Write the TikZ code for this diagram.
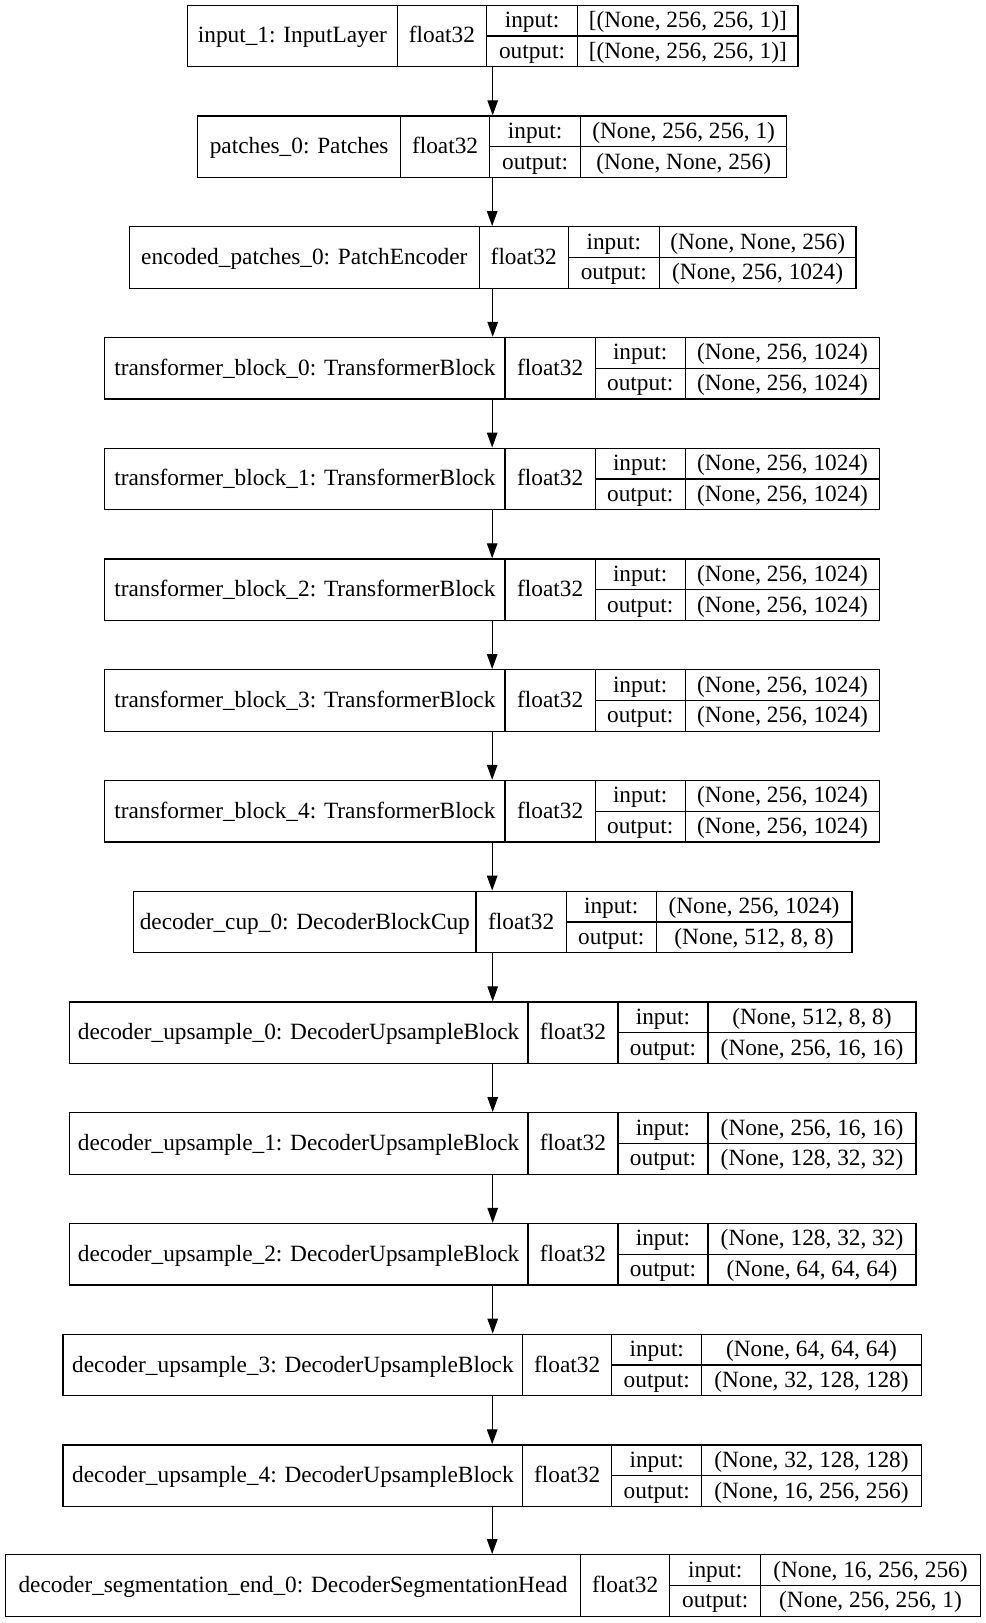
\documentclass[tikz,border=0pt]{standalone}
\usepackage{fontspec}
\setmainfont{Liberation Serif}
\usetikzlibrary{fit,arrows.meta}
\begin{document}
\begin{tikzpicture}[x=1.0347pt,y=-1.0347pt,
  box/.style={draw,line width=1.3pt,inner sep=0pt},
  div/.style={line width=1.3pt},
  txt/.style={font=\fontsize{23.3}{28}\selectfont, inner sep=0pt, text height=17pt, text depth=3pt},
  arr/.style={line width=1.3pt,-{Triangle[length=15pt,width=10.5pt]}}]
\fill[white] (0,0) rectangle (952,1568);
\useasboundingbox (0,0) rectangle (952,1568);
\foreach \nm/\yt/\xa/\xb/\xc/\xd/\xe/\lab/\vin/\vout in {
 r1/5/181/384/470/558/771/{input\_1: InputLayer}/{[(None, 256, 256, 1)]}/{[(None, 256, 256, 1)]},
 r2/112/191/387/473/561/760/{patches\_0: Patches}/{(None, 256, 256, 1)}/{(None, None, 256)},
 r3/219/125/463/549/637/827/{encoded\_patches\_0: PatchEncoder}/{(None, None, 256)}/{(None, 256, 1024)},
 r4/326/101/488/575/662/850/{transformer\_block\_0: TransformerBlock}/{(None, 256, 1024)}/{(None, 256, 1024)},
 r5/433/101/488/575/662/850/{transformer\_block\_1: TransformerBlock}/{(None, 256, 1024)}/{(None, 256, 1024)},
 r6/540/101/488/575/662/850/{transformer\_block\_2: TransformerBlock}/{(None, 256, 1024)}/{(None, 256, 1024)},
 r7/647/101/488/575/662/850/{transformer\_block\_3: TransformerBlock}/{(None, 256, 1024)}/{(None, 256, 1024)},
 r8/754/101/488/575/662/850/{transformer\_block\_4: TransformerBlock}/{(None, 256, 1024)}/{(None, 256, 1024)},
 r9/861/129/460/547/634/823/{decoder\_cup\_0: DecoderBlockCup}/{(None, 256, 1024)}/{(None, 512, 8, 8)},
 r10/968/67/510/597/684/885/{decoder\_upsample\_0: DecoderUpsampleBlock}/{(None, 512, 8, 8)}/{(None, 256, 16, 16)},
 r11/1075/67/510/597/684/885/{decoder\_upsample\_1: DecoderUpsampleBlock}/{(None, 256, 16, 16)}/{(None, 128, 32, 32)},
 r12/1182/67/510/597/684/885/{decoder\_upsample\_2: DecoderUpsampleBlock}/{(None, 128, 32, 32)}/{(None, 64, 64, 64)},
 r13/1289/61/505/591/678/890/{decoder\_upsample\_3: DecoderUpsampleBlock}/{(None, 64, 64, 64)}/{(None, 32, 128, 128)},
 r14/1396/61/505/591/678/890/{decoder\_upsample\_4: DecoderUpsampleBlock}/{(None, 32, 128, 128)}/{(None, 16, 256, 256)},
 r15/1502/5/561/647/735/947/{decoder\_segmentation\_end\_0: DecoderSegmentationHead}/{(None, 16, 256, 256)}/{(None, 256, 256, 1)}}
{
  \pgfmathsetmacro\yb{\yt+59.5}
  \pgfmathsetmacro\ym{\yt+29.75}
  \pgfmathsetmacro\yi{\yt+14.9}
  \pgfmathsetmacro\yo{\yt+44.6}
  \node[box, fit={(\xa,\yt) (\xe,\yb)}] (\nm) {};
  \draw[div] (\xb,\yt) -- (\xb,\yb) (\xc,\yt) -- (\xc,\yb) (\xd,\yt) -- (\xd,\yb) (\xc,\ym) -- (\xe,\ym);
  \node[txt] (\nm-l) at ({(\xa+\xb)/2},\ym) {\lab};
  \node[txt] (\nm-t) at ({(\xb+\xc)/2},\ym) {float32};
  \node[txt] (\nm-i) at ({(\xc+\xd)/2},\yi) {input:};
  \node[txt] (\nm-iv) at ({(\xd+\xe)/2},\yi) {\vin};
  \node[txt] (\nm-o) at ({(\xc+\xd)/2},\yo) {output:};
  \node[txt] (\nm-ov) at ({(\xd+\xe)/2},\yo) {\vout};
}
\foreach \p/\q in {r1/r2,r2/r3,r3/r4,r4/r5,r5/r6,r6/r7,r7/r8,r8/r9,r9/r10,r10/r11,r11/r12,r12/r13,r13/r14,r14/r15}
  \draw[arr] (\p.south) -- (\p.south |- \q.north);
\end{tikzpicture}
\end{document}
